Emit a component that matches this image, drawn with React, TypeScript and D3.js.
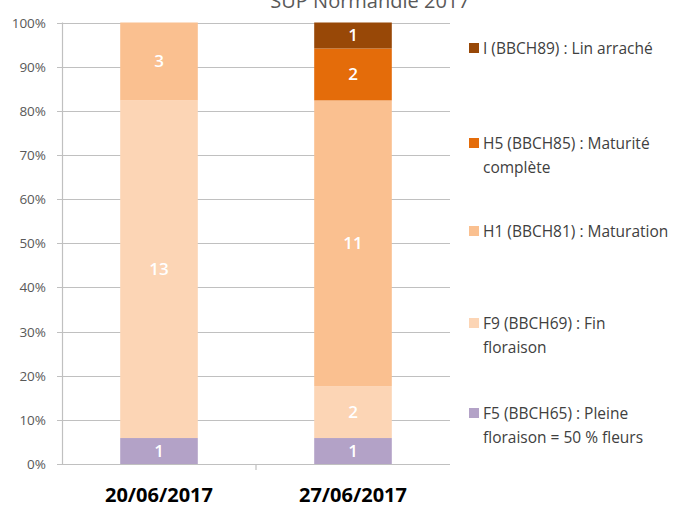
import * as d3 from "d3";

// dates of observation
const dates = ["20/06/2017", "27/06/2017"];

// phenological stages, bottom to top of the stack
const stages = ["F5", "F9", "H1", "H5", "I"];

// number of plots per stage for each date
const f5 = [1, 1];
const f9 = [13, 2];
const h1 = [3, 11];
const h5 = [0, 2];
const iStage = [0, 1];

const stageColors = ["#b3a2c7", "#fcd5b5", "#fac090", "#e46c0a", "#984807"];

// legend is listed top to bottom (reverse order of the stack)
const legendLines = [
  ["I (BBCH89) : Lin arraché"],
  ["H5 (BBCH85) : Maturité", "complète"],
  ["H1 (BBCH81) : Maturation"],
  ["F9 (BBCH69) : Fin", "floraison"],
  ["F5 (BBCH65) : Pleine", "floraison = 50 % fleurs"],
];
const legendY = [48, 143, 231, 323, 413];

const yTicks = [0, 0.1, 0.2, 0.3, 0.4, 0.5, 0.6, 0.7, 0.8, 0.9, 1];

const App = () => {
  const width = 676,
    height = 507;
  const margin = { top: 22.5, left: 62, right: 226, bottom: 43 };

  const rows = dates.map((d, i) => {
    const total = f5[i] + f9[i] + h1[i] + h5[i] + iStage[i];
    return {
      date: d,
      F5: f5[i] / total,
      F9: f9[i] / total,
      H1: h1[i] / total,
      H5: h5[i] / total,
      I: iStage[i] / total,
      counts: { F5: f5[i], F9: f9[i], H1: h1[i], H5: h5[i], I: iStage[i] },
    };
  });

  const series = d3.stack().keys(stages)(rows as any);

  const x = d3
    .scaleBand()
    .domain(dates)
    .range([margin.left, width - margin.right])
    .paddingInner(0.6)
    .paddingOuter(0.3);

  const y = d3
    .scaleLinear()
    .domain([0, 1])
    .range([height - margin.bottom, margin.top]);

  const font = "'Open Sans', sans-serif";

  return (
    <svg
      width={width}
      height={height}
      style={{ position: "absolute", left: 0, top: 0, background: "#fff" }}
      fontFamily={font}
    >
      {/* title, cut off at the top in the source picture */}
      <text x={370} y={8} textAnchor="middle" fontSize={20} fill="#595959">
        SUP Normandie 2017
      </text>

      {/* gridlines */}
      {yTicks.map((t) => (
        <line
          key={t}
          x1={margin.left - 5}
          x2={width - margin.right}
          y1={Math.round(y(t)) + 0.5}
          y2={Math.round(y(t)) + 0.5}
          stroke="#c0c0c0"
          strokeWidth={1.2}
        />
      ))}
      <line
        x1={margin.left + 0.5}
        x2={margin.left + 0.5}
        y1={y(1)}
        y2={y(0) + 0.5}
        stroke="#c0c0c0"
        strokeWidth={1.2}
      />
      <line
        x1={(x.range()[0] + x.range()[1]) / 2}
        x2={(x.range()[0] + x.range()[1]) / 2}
        y1={y(0)}
        y2={y(0) + 6}
        stroke="#c0c0c0"
        strokeWidth={1.2}
      />

      {/* y tick labels */}
      {yTicks.map((t) => (
        <text
          key={t}
          x={46}
          y={y(t) + 5}
          textAnchor="end"
          fontSize={13.5}
          fill="#595959"
        >
          {d3.format(".0%")(t)}
        </text>
      ))}

      {/* bars */}
      {series.map((s, si) =>
        s.map((d: any) => {
          const h = y(d[0]) - y(d[1]);
          if (h <= 0) return null;
          const count = d.data.counts[stages[si]];
          return (
            <g key={stages[si] + d.data.date}>
              <rect
                x={x(d.data.date)}
                y={y(d[1])}
                width={x.bandwidth()}
                height={h}
                fill={stageColors[si]}
              />
              <text
                x={(x(d.data.date) as number) + x.bandwidth() / 2}
                y={(y(d[0]) + y(d[1])) / 2 + 6}
                textAnchor="middle"
                fontSize={17}
                fontWeight={600}
                fill="#fff"
              >
                {count}
              </text>
            </g>
          );
        })
      )}

      {/* x labels */}
      {dates.map((d) => (
        <text
          key={d}
          x={(x(d) as number) + x.bandwidth() / 2}
          y={502}
          textAnchor="middle"
          fontSize={20}
          fontWeight="bold"
          fill="#000"
        >
          {d}
        </text>
      ))}

      {/* legend */}
      {legendLines.map((lines, li) => (
        <g key={li}>
          <rect
            x={469}
            y={legendY[li] - 5}
            width={10}
            height={10}
            fill={stageColors[stages.length - 1 - li]}
          />
          {lines.map((ln, k) => (
            <text
              key={k}
              x={483}
              y={legendY[li] + 6 + k * 24}
              fontSize={15.5}
              fill="#404040"
            >
              {ln}
            </text>
          ))}
        </g>
      ))}
    </svg>
  );
};

export default App;
